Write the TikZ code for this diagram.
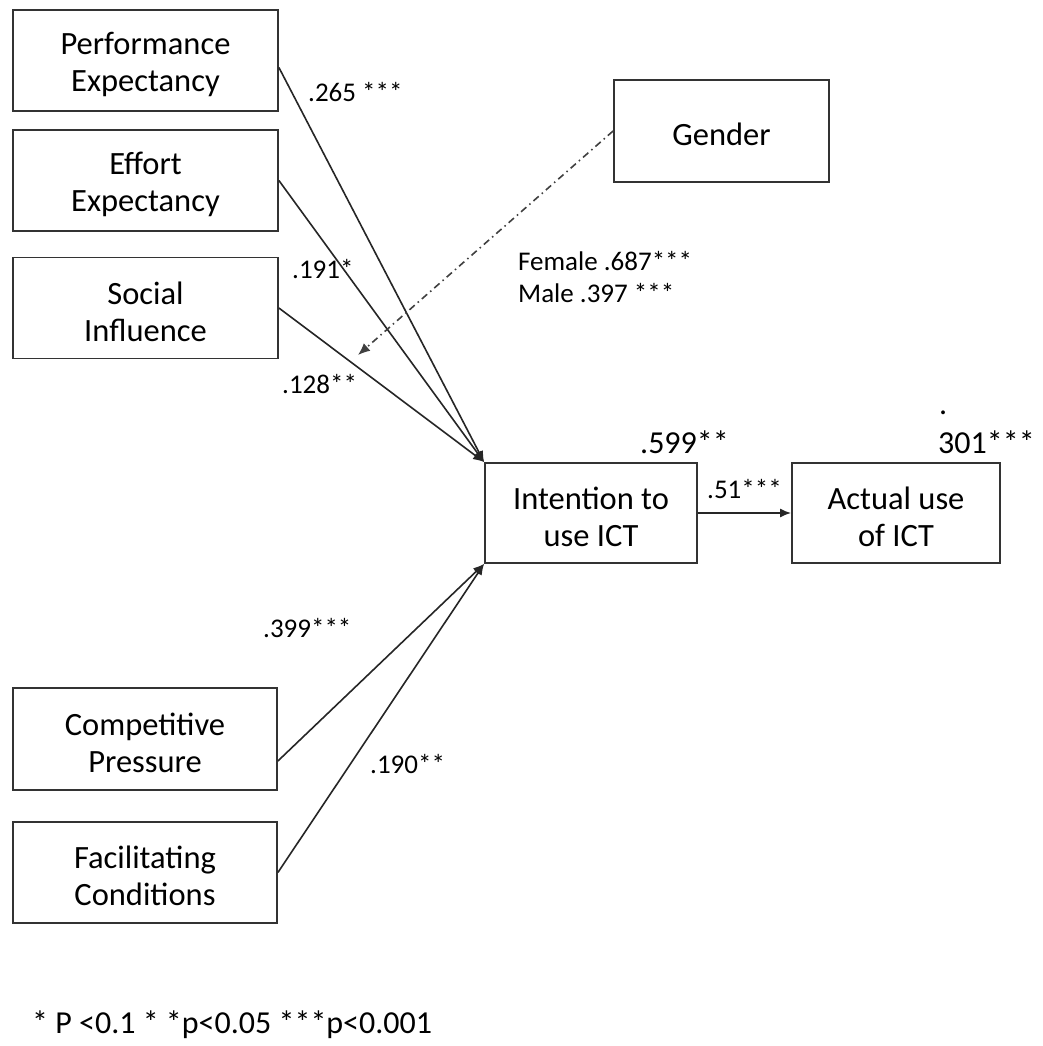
\documentclass[tikz,border=0pt]{standalone}
\usepackage{fontspec}
\setmainfont{Carlito}
\usetikzlibrary{arrows.meta,calc}
% a strut on the first line lowers two-line box texts slightly
\newcommand{\topstrut}{\rule{0pt}{30pt}}
\begin{document}
\begin{tikzpicture}[x=1pt,y=-1pt,
  box/.style={draw=black!80,line width=1.8pt,rectangle,inner sep=0pt,align=center,
    text=black,font=\fontsize{32.5}{37}\selectfont},
  lbl/.style={inner sep=0pt,anchor=base west,text=black,font=\fontsize{27}{31}\selectfont},
  big/.style={inner sep=0pt,anchor=base west,text=black,font=\fontsize{32}{37}\selectfont},
  path/.style={draw=black!85,line width=1.6pt,-{Latex[length=11pt,width=9pt]}},
  moder/.style={draw=black!75,line width=1.6pt,dash pattern=on 7pt off 4pt on 1.5pt off 4pt,
    -{Latex[length=12pt,width=10pt]}}]
\useasboundingbox[fill=white] (0,0) rectangle (1042,1046);

% constructs
\node[box,minimum width=265pt,minimum height=101pt] (pe) at (145.5,60.5) {\topstrut Performance\\Expectancy};
\node[box,minimum width=265pt,minimum height=101pt] (ee) at (145.5,180.5) {\topstrut Effort\\Expectancy};
\node[box,minimum width=265pt,minimum height=101pt] (si) at (145.5,308) {\topstrut Social\\Influence};
\node[box,minimum width=264pt,minimum height=102pt] (cp) at (145,739) {\topstrut Competitive\\Pressure};
\node[box,minimum width=264pt,minimum height=101pt] (fc) at (145,872.5) {\topstrut Facilitating\\Conditions};
\node[box,minimum width=215pt,minimum height=102pt] (gen) at (721.5,131) {\topstrut Gender};
\node[box,minimum width=212pt,minimum height=100pt] (int) at (591,513) {\topstrut Intention to\\use ICT};
\node[box,minimum width=208pt,minimum height=100pt] (act) at (896,513) {\topstrut Actual use\\of ICT};

% structural paths
\draw[path] ([yshift=-7pt]pe.east) -- (int.north west);
\draw[path] (ee.east) -- (int.north west);
\draw[path] (si.east) -- (int.north west);
\draw[path] ([yshift=-22pt]cp.east) -- (int.south west);
\draw[path] (fc.east) -- (int.south west);
\draw[path] (int.east) -- (act.west);

% moderating effect of gender
\coordinate (modtip) at (358,355);
\draw[moder] (gen.west) -- (modtip);

% coefficients
\node[lbl] (l1) at (308,102) {.265 ***};
\node[lbl] (l2) at (292,278) {.191*};
\node[lbl] (l3) at (282,393) {.128**};
\node[lbl] (l4) at (518,270) {Female .687***};
\node[lbl] (l5) at (518,302) {Male .397 ***};
\node[lbl] (l6) at (263,637) {.399***};
\node[lbl] (l7) at (370,773) {.190**};
\node[lbl] (l8) at (707,498) {.51***};
\node[big] (r1) at (640,453) {.599**};
\node[big] (r2dot) at (939,414) {.};
\node[big] (r2) at (938,453) {301***};

% significance legend
\node[lbl,font=\fontsize{32}{37}\selectfont] (note) at (32,1033) {* P <0.1 * *p<0.05 ***p<0.001};
\end{tikzpicture}
\end{document}
